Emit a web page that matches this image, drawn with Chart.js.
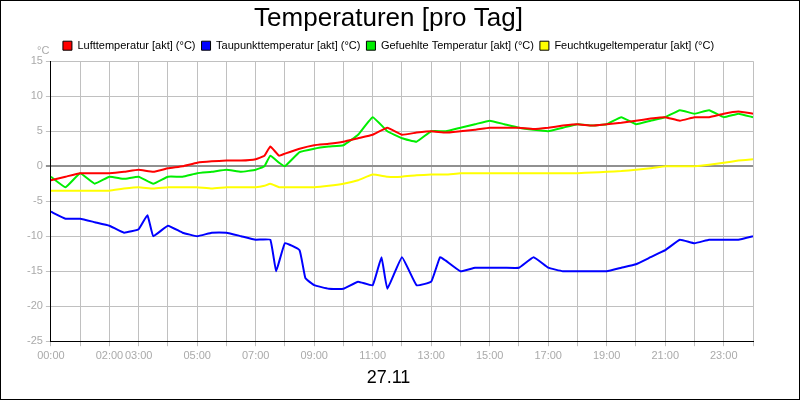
<!DOCTYPE html>
<html>
<head>
<meta charset="utf-8">
<script src="https://cdn.jsdelivr.net/npm/chart.js@4"></script>
<style>
  body { margin: 0; background: #fff; }
  #wrap { width: 798px; height: 398px; border: 1px solid #000; }
</style>
</head>
<body>
<div id="wrap"><canvas id="c" width="798" height="398"></canvas></div>
<script>
// hours of day for each reading
const hoursRed = [0, 0.5, 1, 1.5, 2, 2.5, 3, 3.5, 4, 4.5, 5, 5.5, 6, 6.5, 7, 7.3, 7.5, 7.8, 8, 8.5, 9, 9.5, 10, 10.5, 11, 11.5, 12, 12.5, 13, 13.5, 14, 14.5, 15, 15.5, 16, 16.5, 17, 17.5, 18, 18.5, 19, 19.5, 20, 20.5, 21, 21.5, 22, 22.5, 23, 23.5, 24];
const luft = [-2, -1.5, -1, -1, -1, -0.8, -0.5, -0.8, -0.3, 0, 0.5, 0.7, 0.8, 0.8, 1, 1.5, 2.8, 1.5, 1.8, 2.5, 3, 3.2, 3.5, 4, 4.5, 5.5, 4.5, 4.8, 5, 4.8, 5, 5.2, 5.5, 5.5, 5.5, 5.3, 5.5, 5.8, 6, 5.8, 6, 6.2, 6.5, 6.8, 7, 6.5, 7, 7, 7.5, 7.8, 7.5];
const feucht = [-1.5, -3, -1, -2.5, -1.5, -1.8, -1.5, -2.5, -1.5, -1.5, -1, -0.8, -0.5, -0.8, -0.5, 0, 1.5, 0.5, 0, 2, 2.5, 2.8, 3, 4.5, 7, 5, 4, 3.5, 5, 5, 5.5, 6, 6.5, 6, 5.5, 5.2, 5, 5.5, 6, 5.8, 6, 7, 6, 6.5, 7, 8, 7.5, 8, 7, 7.5, 7];
const kugel = [-3.5, -3.5, -3.5, -3.5, -3.5, -3.2, -3, -3.2, -3, -3, -3, -3.2, -3, -3, -3, -2.8, -2.5, -3, -3, -3, -3, -2.8, -2.5, -2, -1.2, -1.5, -1.5, -1.3, -1.2, -1.2, -1, -1, -1, -1, -1, -1, -1, -1, -1, -0.9, -0.8, -0.7, -0.5, -0.3, 0, 0, 0, 0.2, 0.5, 0.8, 1];
const hoursBlue = [0, 0.5, 1, 1.5, 2, 2.5, 3, 3.3, 3.5, 4, 4.5, 5, 5.5, 6, 6.5, 7, 7.5, 7.7, 8, 8.5, 8.7, 9, 9.5, 10, 10.5, 11, 11.3, 11.5, 12, 12.5, 13, 13.3, 13.5, 14, 14.5, 15, 15.5, 16, 16.5, 17, 17.5, 18, 18.5, 19, 19.5, 20, 20.5, 21, 21.5, 22, 22.5, 23, 23.5, 24];
const taupunkt = [-6.5, -7.5, -7.5, -8, -8.5, -9.5, -9, -7, -10, -8.5, -9.5, -10, -9.5, -9.5, -10, -10.5, -10.5, -15, -11, -12, -16, -17, -17.5, -17.5, -16.5, -17, -13, -17.5, -13, -17, -16.5, -13, -13.5, -15, -14.5, -14.5, -14.5, -14.5, -13, -14.5, -15, -15, -15, -15, -14.5, -14, -13, -12, -10.5, -11, -10.5, -10.5, -10.5, -10];

const xLabels = { 0: '00:00', 2: '02:00', 3: '03:00', 5: '05:00', 7: '07:00', 9: '09:00', 11: '11:00', 13: '13:00', 15: '15:00', 17: '17:00', 19: '19:00', 21: '21:00', 23: '23:00' };

function pts(xs, ys) { return xs.map((x, i) => ({ x: x, y: ys[i] })); }

function ds(label, color, data) {
    return { label: label, data: data, borderColor: color, backgroundColor: color,
             borderWidth: 2, pointRadius: 0, tension: 0.1 };
}

const unitLabel = {
    id: 'unitLabel',
    afterDraw(chart) {
        const c = chart.ctx;
        c.save();
        c.fillStyle = '#aaa';
        c.font = '11px "Liberation Sans"';
        c.textAlign = 'left';
        c.fillText('°C', 36, 50);
        c.restore();
    }
};

new Chart(document.getElementById('c'), {
    type: 'line',
    data: {
        datasets: [
            ds('Lufttemperatur [akt] (°C)', '#ff0000', pts(hoursRed, luft)),
            ds('Taupunkttemperatur [akt] (°C)', '#0000ff', pts(hoursBlue, taupunkt)),
            ds('Gefuehlte Temperatur [akt] (°C)', '#00ee00', pts(hoursRed, feucht)),
            ds('Feuchtkugeltemperatur [akt] (°C)', '#ffff00', pts(hoursRed, kugel))
        ]
    },
    options: {
        responsive: false,
        animation: false,
        layout: { padding: { left: 23, right: 46, top: 2, bottom: 4 } },
        plugins: {
            title: { display: true, text: 'Temperaturen [pro Tag]', color: '#000',
                     font: { family: 'Liberation Sans', size: 26, weight: 'normal' }, padding: { top: 0, bottom: 0 } },
            subtitle: { display: true, position: 'bottom', text: '27.11', color: '#000',
                        font: { family: 'Liberation Sans', size: 18 }, padding: { top: 2, bottom: 6 } },
            legend: { labels: { color: '#000', boxWidth: 9, boxHeight: 9, padding: 6,
                                font: { family: 'Liberation Sans', size: 11 },
                                generateLabels(chart) {
                                    return chart.data.datasets.map((d, i) => ({ text: d.label, fillStyle: d.borderColor,
                                        strokeStyle: '#000', lineWidth: 1, datasetIndex: i }));
                                } } },
            tooltip: { enabled: false }
        },
        scales: {
            x: {
                type: 'linear', min: 0, max: 24,
                ticks: { stepSize: 1, autoSkip: false, maxRotation: 0, color: '#aaa',
                         font: { family: 'Liberation Sans', size: 11 },
                         callback: v => xLabels[v] || '' },
                grid: { color: '#c0c0c0', tickLength: 5 },
                border: { color: '#000', width: 1 }
            },
            y: {
                min: -25, max: 15,
                ticks: { stepSize: 5, color: '#aaa', font: { family: 'Liberation Sans', size: 11 } },
                grid: { color: ctx => ctx.tick && ctx.tick.value === 0 ? '#909090' : '#c0c0c0',
                        lineWidth: ctx => ctx.tick && ctx.tick.value === 0 ? 2 : 1, tickLength: 5 },
                border: { color: '#000', width: 1 }
            }
        }
    },
    plugins: [unitLabel]
});
</script>
</body>
</html>
